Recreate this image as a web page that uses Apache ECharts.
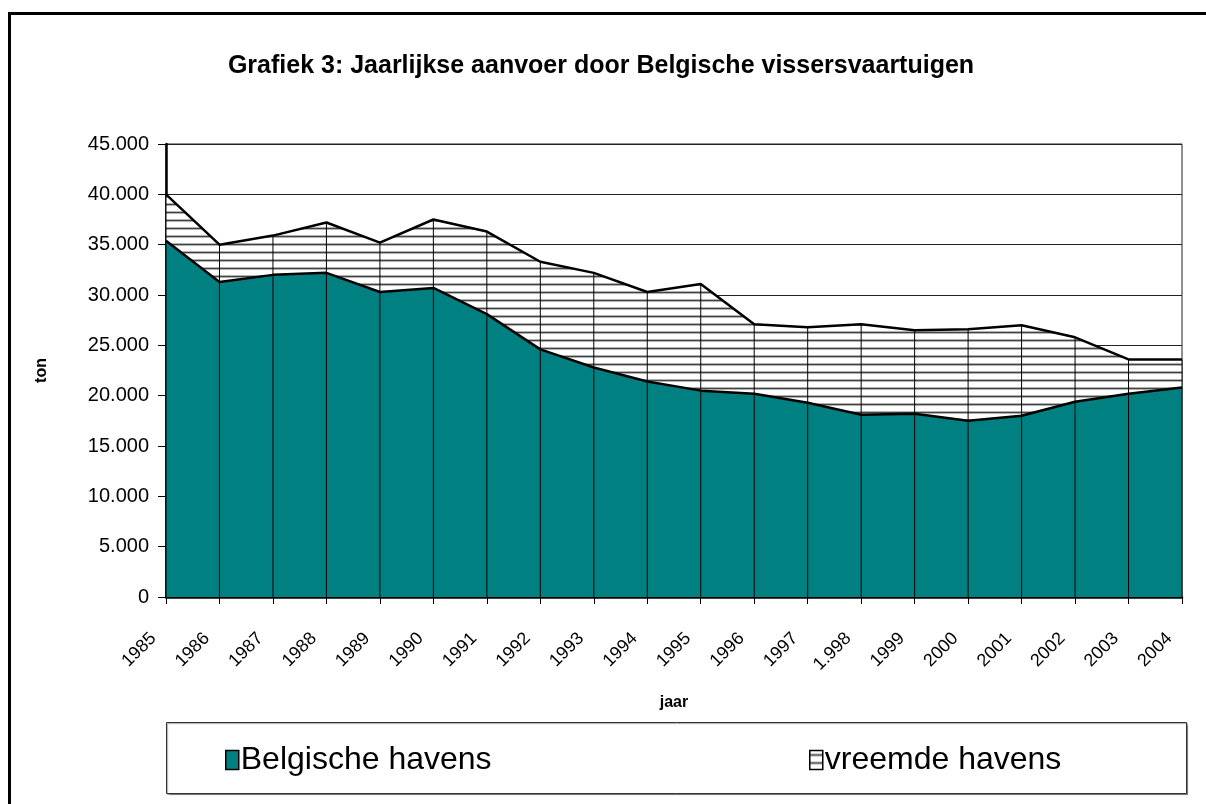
<!DOCTYPE html>
<html>
<head>
<meta charset="utf-8">
<title>Grafiek 3</title>
<script src="https://cdn.jsdelivr.net/npm/echarts@6/dist/echarts.min.js"></script>
<style>
  html, body { margin: 0; padding: 0; background: #fff; }
  #chart { width: 1206px; height: 804px; }
</style>
</head>
<body>
<div id="chart"></div>
<script>
// jaren zoals ze op de as staan (1998 staat als "1.998" in het origineel)
const years = ["1985", "1986", "1987", "1988", "1989", "1990", "1991", "1992", "1993", "1994",
  "1995", "1996", "1997", "1.998", "1999", "2000", "2001", "2002", "2003", "2004"];

// aanvoer in ton
const belgischeHavens = [35400, 31300, 32000, 32200, 30300, 30700, 28100, 24600, 22800, 21400,
  20500, 20200, 19300, 18100, 18200, 17500, 18000, 19400, 20200, 20800];
const vreemdeHavens = [4600, 3700, 3900, 5000, 4900, 6800, 8200, 8700, 9400, 8900,
  10600, 6900, 7500, 9000, 8300, 9100, 9000, 6400, 3400, 2800];

const yTicks = [0, 5000, 10000, 15000, 20000, 25000, 30000, 35000, 40000, 45000];

const FONT = "'Liberation Sans', Arial, sans-serif";

// totaal per jaar, voor de verticale droplijnen
const totals = belgischeHavens.map(function (v, i) { return v + vreemdeHavens[i]; });

// horizontale arcering voor "vreemde havens"
function createHatchPattern() {
  const c = document.createElement("canvas");
  c.width = 8;
  c.height = 8;
  const ctx = c.getContext("2d");
  ctx.fillStyle = "#ffffff";
  ctx.fillRect(0, 0, 8, 8);
  ctx.fillStyle = "#b0b0b0";
  ctx.fillRect(0, 3, 8, 1);
  ctx.fillRect(0, 5, 8, 1);
  ctx.fillStyle = "#444444";
  ctx.fillRect(0, 4, 8, 1);
  return c;
}

function formatThousands(value) {
  return String(value).replace(/\B(?=(\d{3})+(?!\d))/g, ".");
}

const hatch = { image: createHatchPattern(), repeat: "repeat" };

const chart = echarts.init(document.getElementById("chart"));

chart.setOption({
  animation: false,
  textStyle: { fontFamily: FONT },
  title: {
    text: "Grafiek 3: Jaarlijkse aanvoer door Belgische vissersvaartuigen",
    left: 596,
    textAlign: "center",
    top: 49,
    textStyle: { fontFamily: FONT, fontSize: 25, fontWeight: "bold", color: "#000" },
  },
  graphic: [
    {
      type: "rect",
      shape: { x: 9.5, y: 13.5, width: 1300, height: 900 },
      style: { fill: "none", stroke: "#000", lineWidth: 3 },
      silent: true,
    },
    {
      type: "rect",
      shape: { x: 166.5, y: 722.5, width: 1020, height: 71 },
      style: {
        fill: "#fff", stroke: "#333", lineWidth: 1,
        shadowColor: "rgba(0,0,0,0.35)", shadowOffsetX: 1, shadowOffsetY: 1, shadowBlur: 1,
      },
      silent: true,
      z: 0,
    },
  ],
  legend: [
    {
      data: [{
        name: "Belgische havens",
        icon: "rect",
        itemStyle: { color: "#008080", borderColor: "#000", borderWidth: 1.5 },
      }],
      left: 220,
      top: 739,
      itemWidth: 13,
      itemHeight: 19,
      textStyle: { fontFamily: FONT, fontSize: 32, color: "#000", padding: [0, 0, 0, -3] },
      selectedMode: false,
      z: 5,
    },
    {
      data: [{
        name: "vreemde havens",
        icon: "rect",
        itemStyle: { color: hatch, borderColor: "#000", borderWidth: 1.5 },
      }],
      left: 804,
      top: 739,
      itemWidth: 13,
      itemHeight: 19,
      textStyle: { fontFamily: FONT, fontSize: 32, color: "#000", padding: [0, 0, 0, -3] },
      selectedMode: false,
      z: 5,
    },
  ],
  grid: {
    left: 166,
    right: 24,
    top: 144,
    bottom: 207,
    show: true,
    borderColor: "#222",
    borderWidth: 1,
  },
  xAxis: {
    type: "category",
    data: years,
    boundaryGap: false,
    name: "jaar",
    nameLocation: "middle",
    nameGap: 98,
    nameTextStyle: { fontFamily: FONT, fontSize: 16, fontWeight: "bold", color: "#000" },
    axisLine: { lineStyle: { color: "#000", width: 2.5 } },
    axisTick: { show: true, length: 7, lineStyle: { color: "#000", width: 1 } },
    axisLabel: {
      interval: 0,
      rotate: 45,
      margin: 26,
      padding: [0, 18, 0, 0],
      fontFamily: FONT,
      fontSize: 18,
      color: "#000",
    },
    splitLine: { show: false },
  },
  yAxis: {
    type: "value",
    min: 0,
    max: 45000,
    interval: 5000,
    name: "ton",
    nameLocation: "middle",
    nameRotate: 90,
    nameGap: 116,
    nameTextStyle: { fontFamily: FONT, fontSize: 16, fontWeight: "bold", color: "#000" },
    axisLine: { show: true, lineStyle: { color: "#000", width: 2.5 } },
    axisTick: { show: true, length: 8, inside: false, lineStyle: { color: "#000", width: 1 } },
    axisLabel: {
      margin: 17,
      fontFamily: FONT,
      fontSize: 20,
      color: "#000",
      formatter: function (v) { return yTicks.indexOf(v) >= 0 ? formatThousands(v) : ""; },
    },
    splitLine: { show: true, lineStyle: { color: "#222", width: 1 } },
  },
  series: [
    {
      name: "Belgische havens",
      type: "line",
      stack: "aanvoer",
      data: belgischeHavens,
      symbol: "none",
      lineStyle: { color: "#000", width: 2.5 },
      areaStyle: { color: "#008080", opacity: 1 },
      z: 2,
    },
    {
      name: "vreemde havens",
      type: "line",
      stack: "aanvoer",
      data: vreemdeHavens,
      symbol: "none",
      lineStyle: { color: "#000", width: 2.5 },
      areaStyle: { color: hatch, opacity: 1 },
      z: 2,
    },
    {
      // droplijnen van de x-as tot de bovenste lijn
      name: "droplijnen",
      type: "bar",
      data: totals,
      barWidth: 1,
      itemStyle: { color: "#000" },
      silent: true,
      z: 3,
    },
  ],
});
</script>
</body>
</html>
